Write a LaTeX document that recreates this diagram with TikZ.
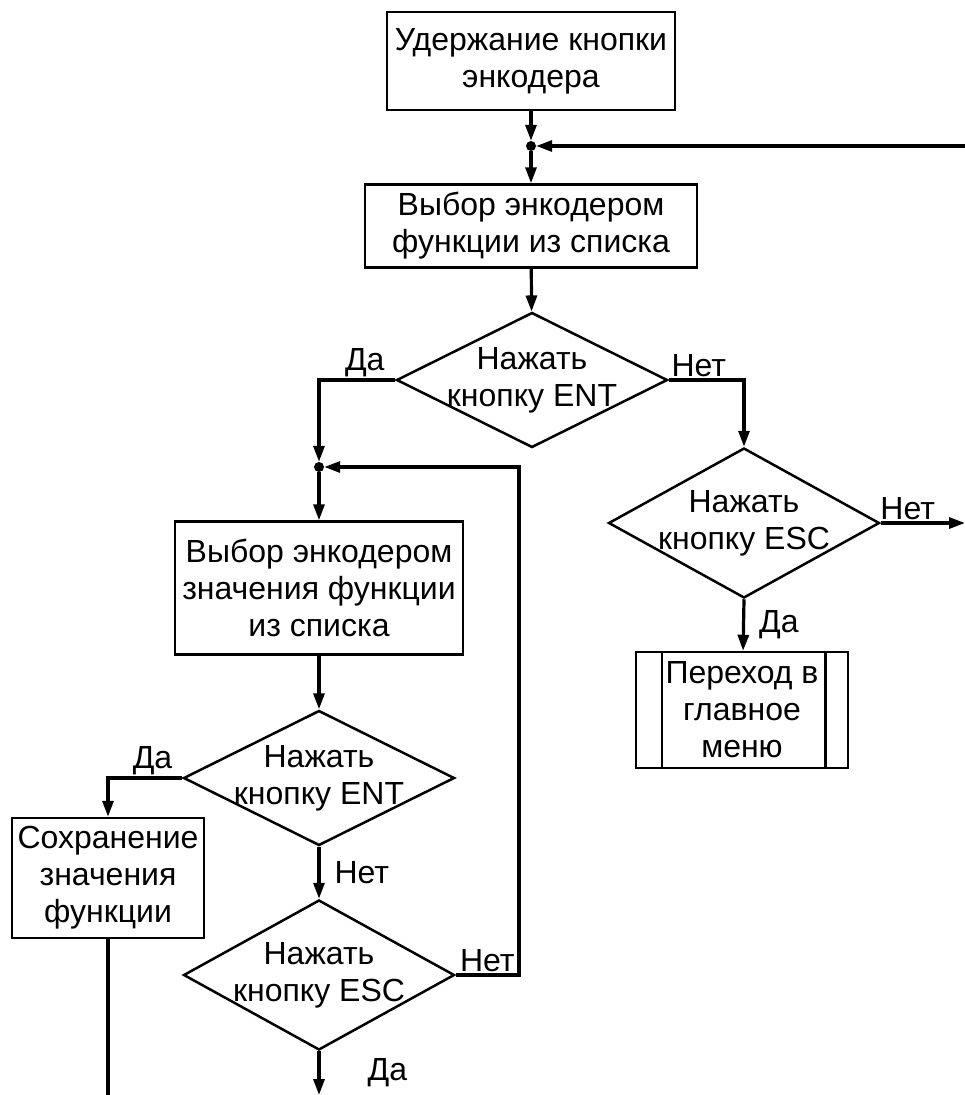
\documentclass[tikz,border=0pt]{standalone}
\usepackage{fontspec}
\setmainfont{Liberation Sans}
\usetikzlibrary{shapes.geometric,arrows.meta}

\begin{document}
\begin{tikzpicture}[x=1pt,y=-1pt,
  font=\fontsize{32}{37}\selectfont,
  box/.style={draw,line width=2.5pt,inner sep=0pt,align=center},
  ask/.style={draw,diamond,aspect=2,line width=2.5pt,inner sep=-12pt,minimum width=271pt,align=center},
  arr/.style={line width=3.2pt,-{Triangle[length=16pt,width=11pt]}},
  lbl/.style={inner sep=2pt},
  dot/.style={circle,fill,inner sep=0pt,minimum size=10pt}]
\useasboundingbox (0,0) rectangle (965,1095);

% blocks
\node[box,minimum width=288pt,minimum height=98pt] (hold) at (531,61) {Удержание кнопки\\энкодера};
\node[dot] (j1) at (531,146) {};
\node[box,minimum width=332pt,minimum height=83pt] (func) at (531,226) {Выбор энкодером\\функции из списка};
\node[ask,minimum height=135pt] (ent1) at (532,380) {Нажать\\кнопку ENT};
\node[ask,minimum height=150pt] (esc1) at (744,523) {Нажать\\кнопку ESC};
\node[box,minimum width=212pt,minimum height=116pt] (menu) at (742,710) {Переход в\\главное\\меню};
\draw[line width=2.5pt] ([xshift=27pt]menu.north west) -- ([xshift=27pt]menu.south west);
\draw[line width=2.5pt] ([xshift=-24pt]menu.north east) -- ([xshift=-24pt]menu.south east);
\node[dot] (j2) at (319,467) {};
\node[box,minimum width=288pt,minimum height=133pt] (val) at (319,588) {Выбор энкодером\\значения функции\\из списка};
\node[ask,minimum height=135pt] (ent2) at (319,778) {Нажать\\кнопку ENT};
\node[box,minimum width=192pt,minimum height=120pt] (save) at (108,878) {Сохранение\\значения\\функции};
\node[ask,minimum height=150pt] (esc2) at (319,975) {Нажать\\кнопку ESC};

% ends that leave the picture
\coordinate (back) at (965,146);
\coordinate (out1) at (965,523);
\coordinate (out2) at (319,1095);
\coordinate (out3) at (108,1095);
\coordinate (up) at (519,975);

% connectors
\draw[arr] (hold) -- (j1);
\draw[arr] (back) -- (j1);
\draw[arr] (j1) -- (func);
\draw[arr] (func) -- (ent1);
\draw[arr] (ent1.west) -| node[lbl,above,pos=0.2] (y1) {Да} (j2);
\draw[arr] (ent1.east) -| node[lbl,above,pos=0.2] (n1) {Нет} (esc1.north);
\draw[arr] (esc1.east) -- node[lbl,above,pos=0.32] (n2) {Нет} (out1);
\draw[arr] (esc1.south) -- node[lbl,right=12pt] (y2) {Да} (menu);
\draw[arr] (j2) -- (val);
\draw[arr] (val) -- (ent2);
\draw[arr] (ent2.west) -| node[lbl,above,pos=0.2] (y3) {Да} (save.north);
\draw[arr] (ent2.south) -- node[lbl,right=12pt] (n3) {Нет} (esc2.north);
\draw[arr] (esc2.east) -- node[lbl,above] (n4) {Нет} (up) |- (j2);
\draw[arr] (esc2.south) -- node[lbl,right=45pt] (y4) {Да} (out2);
\draw[line width=3.2pt] (save) -- (out3);

\end{tikzpicture}
\end{document}
